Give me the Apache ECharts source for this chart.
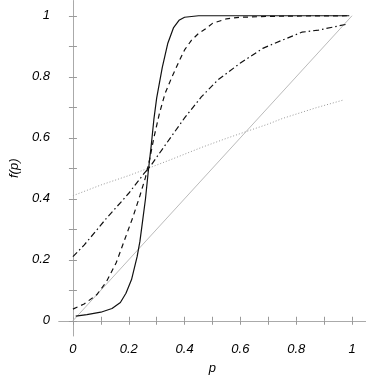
<!DOCTYPE html>
<html>
<head>
<meta charset="utf-8">
<script src="https://cdn.jsdelivr.net/npm/echarts@6/dist/echarts.min.js"></script>
<style>html,body{margin:0;padding:0;background:#fff}#c{width:366px;height:383px}</style>
</head>
<body>
<div id="c"></div>
<script>
// Tick values
const tickValues = [0, 0.1, 0.2, 0.3, 0.4, 0.5, 0.6, 0.7, 0.8, 0.9, 1];
const labelValues = [0, 0.2, 0.4, 0.6, 0.8, 1];

// Solid black curve
const solidX = [0.01, 0.05, 0.1, 0.14, 0.17, 0.19, 0.21, 0.23, 0.24, 0.25, 0.26, 0.27, 0.28, 0.29, 0.30, 0.32, 0.34, 0.36, 0.38, 0.40, 0.45, 0.5, 0.6, 0.7, 0.8, 0.9, 0.99];
const solidY = [0.015, 0.02, 0.028, 0.04, 0.06, 0.09, 0.135, 0.21, 0.26, 0.33, 0.40, 0.49, 0.57, 0.66, 0.73, 0.83, 0.91, 0.96, 0.985, 0.995, 1.0, 1.0, 1.0, 1.0, 1.0, 1.0, 1.0];

// Dashed black curve
const dashX = [0, 0.04, 0.085, 0.12, 0.155, 0.185, 0.215, 0.24, 0.26, 0.275, 0.29, 0.31, 0.33, 0.355, 0.38, 0.40, 0.425, 0.45, 0.48, 0.50, 0.55, 0.6, 0.7, 0.8, 0.99];
const dashY = [0.038, 0.055, 0.085, 0.128, 0.19, 0.265, 0.34, 0.41, 0.47, 0.53, 0.60, 0.68, 0.745, 0.80, 0.85, 0.888, 0.92, 0.942, 0.96, 0.975, 0.99, 0.995, 0.998, 0.999, 1.0];

// Dash-dot black curve
const dashDotX = [0, 0.04, 0.085, 0.12, 0.175, 0.2, 0.255, 0.28, 0.33, 0.4, 0.46, 0.52, 0.6, 0.68, 0.75, 0.82, 0.88, 0.98];
const dashDotY = [0.21, 0.248, 0.297, 0.336, 0.392, 0.418, 0.483, 0.51, 0.575, 0.665, 0.734, 0.79, 0.845, 0.893, 0.92, 0.946, 0.953, 0.972];

// Dotted gray curve
const dotX = [0, 0.1, 0.2, 0.27, 0.35, 0.46, 0.55, 0.62, 0.7, 0.75, 0.87, 0.97];
const dotY = [0.41, 0.445, 0.476, 0.5, 0.528, 0.568, 0.598, 0.62, 0.645, 0.663, 0.698, 0.724];

// Diagonal reference line
const diagX = [0, 1];
const diagY = [0, 1];

const zip = (xs, ys) => xs.map((x, i) => [x, ys[i]]);
const fmt = v => (Math.abs(v) < 1e-9 ? '0' : (Math.abs(v - 1) < 1e-9 ? '1' : String(+v.toFixed(1))));

const labelStyle = {fontFamily: 'Liberation Sans', fontStyle: 'italic', fontSize: 13, color: '#000'};
const axisLine = {show: true, lineStyle: {color: '#aaa', width: 1}};
const tick = {show: true, inside: true, length: 4, lineStyle: {color: '#999'}, customValues: tickValues};

const chart = echarts.init(document.getElementById('c'), null, {renderer: 'canvas'});
chart.setOption({
  animation: false,
  backgroundColor: '#fff',
  grid: {left: 55, top: 0.5, width: 312.4, height: 335.5, containLabel: false},
  xAxis: [
    {type: 'value', min: -0.05, max: 1.05, position: 'bottom',
     axisLine: axisLine, axisTick: tick, splitLine: {show: false},
     axisLabel: Object.assign({customValues: labelValues, formatter: fmt, margin: 7}, labelStyle),
     name: 'p', nameLocation: 'middle', nameGap: 26,
     nameTextStyle: labelStyle},
    {type: 'value', min: -0.05, max: 1.05, position: 'top',
     axisLine: axisLine, axisTick: tick, splitLine: {show: false},
     axisLabel: {show: false}}
  ],
  yAxis: [
    {type: 'value', min: -0.05, max: 1.05, position: 'left',
     axisLine: axisLine, axisTick: tick, splitLine: {show: false},
     axisLabel: Object.assign({customValues: labelValues, formatter: fmt, margin: 9}, labelStyle),
     name: 'f(p)', nameLocation: 'middle', nameGap: 36, nameRotate: 90,
     nameTextStyle: labelStyle},
    {type: 'value', min: -0.05, max: 1.05, position: 'right',
     axisLine: {show: false}, axisTick: tick, splitLine: {show: false},
     axisLabel: {show: false}}
  ],
  series: [
    {type: 'line', data: zip(diagX, diagY), showSymbol: false, symbol: 'none',
     lineStyle: {color: '#bbb', width: 1}},
    {type: 'line', data: zip(dotX, dotY), showSymbol: false, symbol: 'none',
     lineStyle: {color: '#999', width: 1, type: [1, 2]}},
    {type: 'line', data: zip(dashDotX, dashDotY), showSymbol: false, symbol: 'none',
     lineStyle: {color: '#111', width: 1.2, type: [6, 3, 1.5, 3]}},
    {type: 'line', data: zip(dashX, dashY), showSymbol: false, symbol: 'none',
     lineStyle: {color: '#111', width: 1.2, type: [5, 4]}},
    {type: 'line', data: zip(solidX, solidY), showSymbol: false, symbol: 'none',
     lineStyle: {color: '#111', width: 1.2}}
  ]
});
</script>
</body>
</html>
